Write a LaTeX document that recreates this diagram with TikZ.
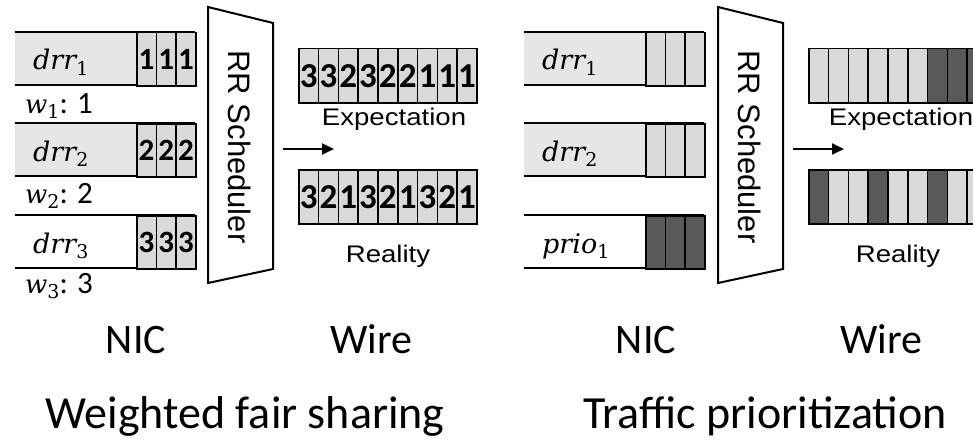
\documentclass[tikz,border=0pt]{standalone}
\usepackage{fontspec}
\setmainfont{Carlito}
\newfontfamily\arialfont{Liberation Sans}
\newfontfamily\varfont{DejaVu Serif}
\usetikzlibrary{arrows.meta}
\definecolor{qbody}{HTML}{E7E6E6}
\definecolor{cellgray}{HTML}{D9D9D9}
\definecolor{celldark}{HTML}{595959}
% italic variable with an upright subscript
\newcommand\qvar[2]{{\varfont\itshape #1}\raisebox{-0.22em}{\varfont\fontsize{19}{19}\selectfont #2}}
\tikzset{
  qline/.style={line width=2pt, black},
  cell/.style={draw=black, line width=1.5pt, minimum width=19.7pt, minimum height=53pt,
    inner sep=0pt, anchor=north west, font=\fontsize{31}{31}\selectfont\bfseries},
  wcell/.style={draw=black, line width=1.5pt, minimum width=19.8pt, minimum height=54pt,
    inner sep=0pt, anchor=north west, font=\fontsize{35}{35}\selectfont\bfseries},
  qlabel/.style={anchor=base west, inner sep=0pt, font=\fontsize{27}{30}\selectfont},
  wlabel/.style={anchor=base west, inner sep=0pt, font=\fontsize{26}{30}\selectfont},
  sched/.style={line width=2pt, black},
  schedtext/.style={rotate=-90, inner sep=0pt, font=\arialfont\fontsize{31}{31}\selectfont},
  wiretext/.style={inner sep=0pt, xscale=1.15, font=\arialfont\fontsize{24}{24}\selectfont},
  flowarrow/.style={line width=1.8pt, -{Triangle[length=12pt,width=11pt]}},
  part/.style={anchor=base, inner sep=0pt, font=\fontsize{42}{42}\selectfont},
  title/.style={anchor=base, inner sep=0pt, font=\fontsize{46}{46}\selectfont},
}
% one NIC queue: name, left x, top y, body fill, cell fill, cell text
\newcommand\nicqueue[6]{%
  \fill[#4] (#2,#3) rectangle ++(121,53);
  \draw[qline] (#2,#3) -- ++(180,0) (#2,#3+53) -- ++(180,0);
  \foreach \k in {0,1,2}
    \node[cell, fill=#5] (#1-\k) at (#2+121+\k*19.7,#3) {#6};
}
% weight label: variable, colon and value
\newcommand\weight[2]{\qvar{w}{#1}{\fontsize{31}{31}\selectfont: #2}}
\begin{document}
\begin{tikzpicture}[x=1pt,y=-1pt]
\useasboundingbox[fill=white] (0,0) rectangle (973,444);

% ---------------- weighted fair sharing ----------------
\nicqueue{Lq1}{15}{32}{qbody}{cellgray}{1}
\nicqueue{Lq2}{15}{123}{qbody}{cellgray}{2}
\nicqueue{Lq3}{15}{215}{white}{cellgray}{3}
\node[qlabel] (Ld1) at (33,70) {\qvar{drr}{1}};
\node[qlabel] (Ld2) at (33,161) {\qvar{drr}{2}};
\node[qlabel] (Ld3) at (33,253) {\qvar{drr}{3}};
\node[wlabel] (Lw1) at (25,113) {\weight{1}{1}};
\node[wlabel] (Lw2) at (25,203) {\weight{2}{2}};
\node[wlabel] (Lw3) at (25,293) {\weight{3}{3}};

\draw[sched] (208,7) -- (273,23) -- (273,269) -- (208,283) -- cycle;
\node[schedtext] (Lsched) at (239.5,147) {RR Scheduler};

\coordinate (La) at (283,149);
\coordinate (Lb) at (334,149);
\draw[flowarrow] (La) -- (Lb);

\foreach \c [count=\k from 0] in {3,3,2,3,2,2,1,1,1}
  \node[wcell, fill=cellgray] (LE-\k) at (298+\k*19.8,48) {\c};
\foreach \c [count=\k from 0] in {3,2,1,3,2,1,3,2,1}
  \node[wcell, fill=cellgray] (LR-\k) at (298+\k*19.8,169) {\c};
\node[wiretext] (Lexp) at (394,119) {Expectation};
\node[wiretext] (Lreal) at (388,256) {Reality};

\node[part] (Lnic) at (136,353) {NIC};
\node[part] (Lwire) at (371,353) {Wire};
\node[title] (Ltitle) at (245,428) {Weighted fair sharing};

% ---------------- traffic prioritization ----------------
\nicqueue{Rq1}{524}{32}{qbody}{cellgray}{}
\nicqueue{Rq2}{524}{123}{qbody}{cellgray}{}
\nicqueue{Rq3}{524}{215}{white}{celldark}{}
\node[qlabel] (Rd1) at (542,70) {\qvar{drr}{1}};
\node[qlabel] (Rd2) at (542,161) {\qvar{drr}{2}};
\node[qlabel] (Rp1) at (542,253) {\qvar{prio}{1}};

\draw[sched] (718,7) -- (783,23) -- (783,269) -- (718,283) -- cycle;
\node[schedtext] (Rsched) at (749.5,147) {RR Scheduler};

\coordinate (Ra) at (793,149);
\coordinate (Rb) at (844,149);
\draw[flowarrow] (Ra) -- (Rb);

\foreach \f [count=\k from 0] in {cellgray,cellgray,cellgray,cellgray,cellgray,cellgray,celldark,celldark,celldark}
  \node[wcell, fill=\f] (RE-\k) at (808+\k*19.8,48) {};
\foreach \f [count=\k from 0] in {celldark,cellgray,cellgray,celldark,cellgray,cellgray,celldark,cellgray,cellgray}
  \node[wcell, fill=\f] (RR-\k) at (808+\k*19.8,169) {};
\node[wiretext] (Rexp) at (901,119) {Expectation};
\node[wiretext] (Rreal) at (898,256) {Reality};

\node[part] (Rnic) at (646,353) {NIC};
\node[part] (Rwire) at (881,353) {Wire};
\node[title] (Rtitle) at (765,428) {Traffic prioritization};
\end{tikzpicture}
\end{document}
